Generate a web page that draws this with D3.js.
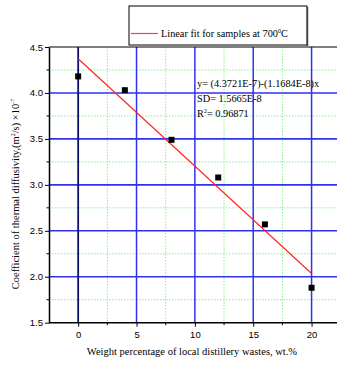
<!DOCTYPE html>
<html><head><meta charset="utf-8">
<script src="https://cdn.jsdelivr.net/npm/d3@7"></script>
<style>body{margin:0;background:#fff}svg{display:block}</style>
</head><body>
<svg id="c" width="337" height="367"></svg>
<script>
const xs = [0, 4, 8, 12, 16, 20];
const ys = [4.18, 4.03, 3.49, 3.08, 2.57, 1.88];
const fitIntercept = 4.3721, fitSlope = -0.11684;
const xTicks = [0, 5, 10, 15, 20];
const yTicks = [1.5, 2.0, 2.5, 3.0, 3.5, 4.0, 4.5];
const xMinor = [-2.5, 2.5, 7.5, 12.5, 17.5, 22.5];
const yMinor = [1.75, 2.25, 2.75, 3.25, 3.75, 4.25];
const legendText = "Linear fit for samples at 700";
const annot = ["y= (4.3721E-7)-(1.1684E-8)x", "SD= 1.5665E-8", "0.96871"];

const svg = d3.select("#c");
const L = 49, T = 47, B = 322.7;
const x = d3.scaleLinear().domain([-2.5, 22.5]).range([L, L + 25 * 11.67]);
const y = d3.scaleLinear().domain([1.5, 4.5]).range([B, T]);
const R = 337;

// minor grid
svg.append("g").selectAll("line").data(yMinor.filter(v => v < 4.5)).join("line")
  .attr("x1", L).attr("x2", R).attr("y1", d => y(d)).attr("y2", d => y(d))
  .attr("stroke", "#8cf08c").attr("stroke-width", 1).attr("stroke-dasharray", "1.5,1.5");
svg.append("g").selectAll("line").data(xMinor.filter(v => v > -2.5)).join("line")
  .attr("y1", T).attr("y2", B).attr("x1", d => x(d)).attr("x2", d => x(d))
  .attr("stroke", "#8cf08c").attr("stroke-width", 1).attr("stroke-dasharray", "1.5,1.5");
// major grid
svg.append("g").selectAll("line").data(yTicks.filter(v => v > 1.5 && v < 4.5)).join("line")
  .attr("x1", L).attr("x2", R).attr("y1", d => y(d)).attr("y2", d => y(d))
  .attr("stroke", "#3030f0").attr("stroke-width", 1.6);
svg.append("g").selectAll("line").data(xTicks).join("line")
  .attr("y1", T).attr("y2", B).attr("x1", d => x(d)).attr("x2", d => x(d))
  .attr("stroke", d => d === 0 ? "#101070" : "#3030f0").attr("stroke-width", d => d === 0 ? 1.8 : 1.5);

// axes
svg.append("line").attr("x1", L).attr("x2", R).attr("y1", T).attr("y2", T).attr("stroke", "#000").attr("stroke-width", 1.2);
const xAxis = svg.append("g").attr("transform", `translate(0,${B})`)
  .call(d3.axisBottom(x).tickValues(xTicks).tickSize(4).tickSizeOuter(0).tickFormat(d3.format("d")));
xAxis.select(".domain").attr("d", `M${L},0H${R}`).attr("stroke-width", 1.5);
xAxis.selectAll("text").attr("font-family", "Liberation Sans, Arial, sans-serif").attr("font-size", 9.5).attr("dy", "0.9em");
svg.append("g").attr("transform", `translate(0,${B})`).selectAll("line").data(xMinor.filter(v => v > -2.5)).join("line")
  .attr("x1", d => x(d)).attr("x2", d => x(d)).attr("y1", 0).attr("y2", 2.5).attr("stroke", "#000");

const yAxis = svg.append("g").attr("transform", `translate(${L},0)`)
  .call(d3.axisLeft(y).tickValues(yTicks).tickSize(4).tickSizeOuter(0).tickFormat(d3.format(".1f")));
yAxis.select(".domain").attr("stroke-width", 1.5);
yAxis.selectAll("text").attr("font-family", "Liberation Sans, Arial, sans-serif").attr("font-size", 9.5).attr("x", -6);
svg.append("g").attr("transform", `translate(${L},0)`).selectAll("line").data(yMinor).join("line")
  .attr("x1", -2.5).attr("x2", 0).attr("y1", d => y(d)).attr("y2", d => y(d)).attr("stroke", "#000");

// fit line
svg.append("line")
  .attr("x1", x(0)).attr("y1", y(fitIntercept))
  .attr("x2", x(20)).attr("y2", y(fitIntercept + fitSlope * 20))
  .attr("stroke", "#ff2020").attr("stroke-width", 1.1);

// points
svg.append("g").selectAll("rect").data(xs.map((v, i) => [v, ys[i]])).join("rect")
  .attr("x", d => x(d[0]) - 3).attr("y", d => y(d[1]) - 3).attr("width", 6).attr("height", 6).attr("fill", "#000");

// annotation
const serif = "Liberation Serif, Times New Roman, serif";
const an = svg.append("g").attr("font-family", serif).attr("font-size", 10.3).attr("fill", "#000");
an.append("text").attr("x", 197).attr("y", 87).text(annot[0]);
an.append("text").attr("x", 197).attr("y", 102).text(annot[1]);
const r2 = an.append("text").attr("x", 197).attr("y", 117);
r2.append("tspan").text("R");
r2.append("tspan").attr("font-size", 6).attr("dy", -4).text("2");
r2.append("tspan").attr("dy", 4).text("= " + annot[2]);

// legend
const lg = svg.append("g");
lg.append("rect").attr("x", 129).attr("y", 6).attr("width", 178).attr("height", 39).attr("fill", "#fff").attr("stroke", "#000").attr("stroke-width", 1);
lg.append("line").attr("x1", 307.5).attr("x2", 307.5).attr("y1", 7).attr("y2", 46).attr("stroke", "#444").attr("stroke-width", 1.5);
lg.append("line").attr("x1", 131).attr("x2", 158).attr("y1", 33.5).attr("y2", 33.5).attr("stroke", "#ff4040").attr("stroke-width", 1.2);
const lt = lg.append("text").attr("x", 161).attr("y", 37).attr("font-family", serif).attr("font-size", 10.3);
lt.append("tspan").text(legendText);
lt.append("tspan").attr("font-size", 6).attr("dy", -4).text("0");
lt.append("tspan").attr("dy", 4).text("C");

// axis titles
svg.append("text").attr("x", 192).attr("y", 355).attr("text-anchor", "middle")
  .attr("font-family", serif).attr("font-size", 10.5).text("Weight percentage of local distillery wastes, wt.%");
const yl = svg.append("text").attr("transform", "translate(19,194) rotate(-90)").attr("text-anchor", "middle")
  .attr("font-family", serif).attr("font-size", 10.5);
yl.append("tspan").text("Coefficient of thermal diffusivity,(m");
yl.append("tspan").attr("font-size", 6).attr("dy", -4).text("2");
yl.append("tspan").attr("dy", 4).text("/s) \u00d710");
yl.append("tspan").attr("font-size", 6).attr("dy", -4).text("-7");
</script>
</body></html>
